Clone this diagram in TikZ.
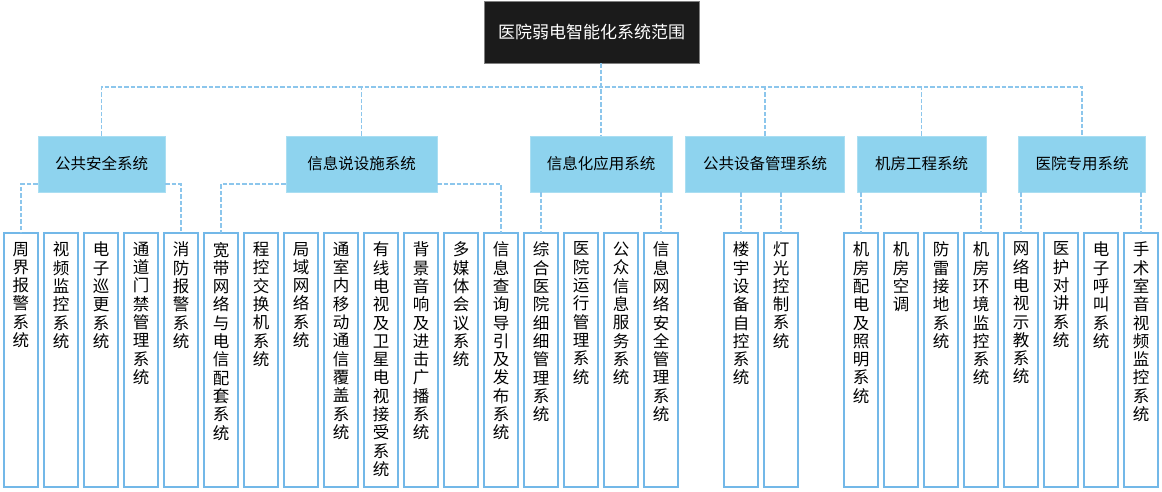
\documentclass[tikz,border=0pt]{standalone}
\usepackage{fontspec}
\setmainfont{Noto Sans CJK SC}
\usetikzlibrary{positioning}
\definecolor{catblue}{RGB}{142,211,238}
\definecolor{catline}{RGB}{170,222,242}
\definecolor{leafline}{RGB}{115,184,232}
\definecolor{linkblue}{RGB}{140,198,236}
\definecolor{rootfill}{RGB}{27,27,27}
\makeatletter
% stacks the characters of a name one above the other
\newcommand{\vstack}[1]{\parbox[t][244pt][t]{18pt}{\vspace*{4pt}\centering\vstack@#1\@nil}}
\def\vstack@#1#2\@nil{#1\ifx\relax#2\relax\else\\\vstack@#2\@nil\fi}
\makeatother
\tikzset{%
  root/.style={draw=gray, fill=rootfill, text=white, minimum width=215pt,
    minimum height=62pt, font=\fontsize{17pt}{20pt}\selectfont},
  group/.style={draw=catline, fill=catblue, minimum height=56pt,
    font=\fontsize{15.5pt}{18pt}\selectfont},
  leaf/.style={draw=leafline, line width=1.4pt, inner xsep=8pt, inner ysep=5pt,
    outer sep=0pt, font=\fontsize{16.5pt}{18.3pt}\selectfont},
  link/.style={draw=linkblue, line width=1.5pt, dash pattern=on 4.5pt off 2pt}
}

\begin{document}
\begin{tikzpicture}[x=1pt, y=1pt, node distance=6pt]
    \useasboundingbox (0,0) rectangle (1162,-491);

    \node[root] (root) at (591.5,-32) {医院弱电智能化系统范围};

    \node[group, minimum width=127pt] (A) at (101.5,-164) {公共安全系统};
    \node[group, minimum width=151pt] (B) at (361.5,-164) {信息说设施系统};
    \node[group, minimum width=142pt] (C) at (601,-164) {信息化应用系统};
    \node[group, minimum width=159pt] (D) at (765,-164) {公共设备管理系统};
    \node[group, minimum width=129pt] (E) at (921.5,-164) {机房工程系统};
    \node[group, minimum width=127pt] (F) at (1082,-164) {医院专用系统};

    \node[leaf, anchor=north west] (A1) at (4,-233) {\vstack{周界报警系统}};
    \node[leaf, right=of A1] (A2) {\vstack{视频监控系统}};
    \node[leaf, right=of A2] (A3) {\vstack{电子巡更系统}};
    \node[leaf, right=of A3] (A4) {\vstack{通道门禁管理系统}};
    \node[leaf, right=of A4] (A5) {\vstack{消防报警系统}};

    \node[leaf, right=of A5] (B1) {\vstack{宽带网络与电信配套系统}};
    \node[leaf, right=of B1] (B2) {\vstack{程控交换机系统}};
    \node[leaf, right=of B2] (B3) {\vstack{局域网络系统}};
    \node[leaf, right=of B3] (B4) {\vstack{通室内移动通信覆盖系统}};
    \node[leaf, right=of B4] (B5) {\vstack{有线电视及卫星电视接受系统}};
    \node[leaf, right=of B5] (B6) {\vstack{背景音响及进击广播系统}};
    \node[leaf, right=of B6] (B7) {\vstack{多媒体会议系统}};
    \node[leaf, right=of B7] (B8) {\vstack{信息查询导引及发布系统}};

    \node[leaf, right=of B8] (C1) {\vstack{综合医院细细管理系统}};
    \node[leaf, right=of C1] (C2) {\vstack{医院运行管理系统}};
    \node[leaf, right=of C2] (C3) {\vstack{公众信息服务系统}};
    \node[leaf, right=of C3] (C4) {\vstack{信息网络安全管理系统}};

    \node[leaf, right=46pt of C4] (D1) {\vstack{楼宇设备自控系统}};
    \node[leaf, right=of D1] (D2) {\vstack{灯光控制系统}};

    \node[leaf, right=46pt of D2] (E1) {\vstack{机房配电及照明系统}};
    \node[leaf, right=of E1] (E2) {\vstack{机房空调}};
    \node[leaf, right=of E2] (E3) {\vstack{防雷接地系统}};
    \node[leaf, right=of E3] (E4) {\vstack{机房环境监控系统}};

    \node[leaf, right=of E4] (F1) {\vstack{网络电视示教系统}};
    \node[leaf, right=of F1] (F2) {\vstack{医护对讲系统}};
    \node[leaf, right=of F2] (F3) {\vstack{电子呼叫系统}};
    \node[leaf, right=of F3] (F4) {\vstack{手术室音视频监控系统}};

    % root to the groups
    \coordinate (bus) at (601,-87);
    \draw[link] (root.south -| C.north) -- (C.north);
    \draw[link] (A.north) |- (bus) -| (F.north);
    \draw[link] (B.north) -- (B.north |- bus);
    \draw[link] (D.north) -- (D.north |- bus);
    \draw[link] (E.north) -- (E.north |- bus);

    % groups to their systems
    \draw[link] ([yshift=8pt]A.south west) -| (A1.north);
    \draw[link] ([yshift=8pt]A.south east) -| (A5.north);
    \draw[link] ([yshift=8pt]B.south west) -| (B1.north);
    \draw[link] ([yshift=8pt]B.south east) -| (B8.north);
    \draw[link] (C1.north |- C.south) -- (C1.north);
    \draw[link] (C4.north |- C.south) -- (C4.north);
    \draw[link] (D1.north |- D.south) -- (D1.north);
    \draw[link] (D2.north |- D.south) -- (D2.north);
    \draw[link] (E1.north |- E.south) -- (E1.north);
    \draw[link] (E4.north |- E.south) -- (E4.north);
    \draw[link] (F1.north |- F.south) -- (F1.north);
    \draw[link] (F4.north |- F.south) -- (F4.north);
\end{tikzpicture}
\end{document}
